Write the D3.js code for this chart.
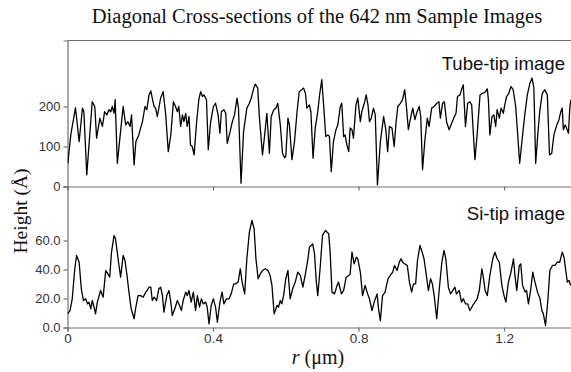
<!DOCTYPE html>
<html><head><meta charset="utf-8">
<script src="https://cdn.jsdelivr.net/npm/d3@7"></script>
<style>body{margin:0;background:#fff}svg{display:block}</style>
</head><body><svg id="c" width="571" height="372"></svg>
<script>
const tubeR = [0.001,0.009,0.022,0.032,0.041,0.045,0.053,0.068,0.075,0.080,0.089,0.096,0.102,0.108,0.114,0.119,0.123,0.128,0.131,0.137,0.144,0.153,0.160,0.166,0.172,0.176,0.183,0.188,0.196,0.206,0.213,0.218,0.224,0.229,0.233,0.238,0.242,0.247,0.256,0.263,0.270,0.277,0.284,0.291,0.297,0.302,0.306,0.311,0.316,0.320,0.325,0.329,0.334,0.338,0.343,0.348,0.355,0.361,0.366,0.371,0.375,0.382,0.387,0.393,0.401,0.407,0.414,0.419,0.423,0.430,0.435,0.439,0.447,
0.452,0.459,0.466,0.470,0.477,0.484,0.493,0.500,0.505,0.512,0.516,0.523,0.527,0.536,0.542,0.548,0.555,0.560,0.567,0.573,0.578,0.585,0.591,0.597,0.600,0.606,0.610,0.617,0.624,0.631,0.637,0.644,0.649,0.654,0.658,0.665,0.669,0.675,0.681,0.688,0.693,0.699,0.704,0.710,0.716,0.720,0.725,0.731,0.738,0.743,0.750,0.754,0.759,0.763,0.768,0.773,0.777,0.782,0.786,0.793,0.798,0.805,0.809,0.817,0.821,0.826,0.830,0.835,0.841,0.846,0.852,0.860,0.869,0.875,0.880,0.885,0.892,0.898,0.903,0.908,0.915,
0.921,0.927,0.932,0.937,0.943,0.949,0.955,0.961,0.967,0.971,0.976,0.982,0.989,0.994,1.001,1.008,1.015,1.021,1.025,1.031,1.036,1.042,1.049,1.056,1.062,1.068,1.072,1.079,1.083,1.088,1.094,1.100,1.106,1.111,1.120,1.126,1.134,1.140,1.147,1.154,1.157,1.161,1.167,1.172,1.177,1.181,1.187,1.192,1.198,1.202,1.207,1.213,1.219,1.225,1.232,1.237,1.243,1.251,1.257,1.264,1.271,1.277,1.282,1.287,1.292,1.298,1.305,1.312,1.319,1.325,1.331,1.337,1.345,1.351,1.356,1.360,1.363,1.368,1.372,1.377,1.381,1.384];
const tubeH = [58,129,197,112,196,187,29,212,200,121,171,150,187,179,192,187,200,183,217,58,121,200,154,162,150,179,54,112,129,162,200,192,229,239,221,200,196,175,221,237,179,87,129,212,200,187,200,150,179,162,183,150,175,104,100,79,162,217,237,225,229,217,92,158,200,208,179,133,187,192,183,108,137,
158,179,221,196,8,137,196,208,221,246,256,246,179,79,129,183,83,175,192,196,208,154,83,72,75,171,154,67,112,187,237,242,246,233,196,204,187,71,146,187,229,267,204,125,129,125,37,112,142,154,200,208,125,129,104,87,146,142,121,204,221,162,187,212,229,204,162,171,196,179,4,112,175,142,87,150,146,100,158,200,208,
217,242,196,142,171,196,167,187,200,175,42,112,171,150,196,200,208,212,171,208,212,162,142,158,171,183,225,229,242,254,150,208,212,204,67,129,229,233,235,244,217,129,175,179,150,192,171,196,183,204,225,233,250,242,200,137,58,129,179,229,258,271,246,58,121,187,233,242,229,79,83,129,154,167,187,196,142,154,146,133,200,217];
const siR = [0.000,0.007,0.013,0.020,0.025,0.032,0.038,0.044,0.050,0.055,0.059,0.064,0.068,0.073,0.077,0.082,0.087,0.091,0.098,0.105,0.111,0.116,0.121,0.128,0.132,0.139,0.146,0.153,0.158,0.163,0.169,0.175,0.183,0.187,0.194,0.201,0.208,0.215,0.219,0.224,0.229,0.233,0.238,0.245,0.251,0.256,0.261,0.265,0.273,0.279,0.284,0.288,0.295,0.302,0.308,0.313,0.318,0.325,0.329,0.334,0.340,0.346,0.352,0.357,0.363,0.368,0.373,0.380,0.384,0.389,0.395,0.401,0.407,0.412,0.419,0.425,0.430,0.437,0.444,0.450,
0.457,0.463,0.469,0.475,0.480,0.487,0.493,0.500,0.507,0.513,0.518,0.524,0.530,0.536,0.544,0.551,0.557,0.562,0.568,0.576,0.580,0.585,0.589,0.594,0.600,0.606,0.612,0.619,0.626,0.633,0.640,0.647,0.654,0.661,0.665,0.674,0.679,0.684,0.688,0.695,0.701,0.709,0.718,0.722,0.727,0.734,0.741,0.745,0.753,0.759,0.766,0.773,0.777,0.782,0.788,0.794,0.798,0.805,0.811,0.818,0.825,0.830,0.837,0.843,0.851,0.855,0.860,0.866,0.873,0.881,0.887,0.894,0.899,0.906,0.912,0.917,
0.921,0.927,0.934,0.940,0.946,0.951,0.957,0.962,0.969,0.975,0.980,0.986,0.992,0.998,1.003,1.008,1.015,1.022,1.029,1.035,1.040,1.047,1.053,1.059,1.065,1.069,1.077,1.083,1.088,1.094,1.100,1.106,1.114,1.120,1.126,1.132,1.139,1.143,1.148,1.154,1.161,1.169,1.175,1.181,1.187,1.194,1.200,1.205,1.212,1.218,1.226,1.230,1.235,1.242,1.246,1.251,1.258,1.262,1.267,1.273,1.279,1.285,1.292,1.299,1.304,1.308,1.314,1.320,1.326,1.333,1.340,1.346,1.353,1.360,1.365,1.369,1.374,1.379,1.383];
const siH = [9.4,11.7,19.8,40.5,49.7,45,26.7,18.6,19.8,16.3,17.5,12.9,18.6,14,9.4,17.5,22,25.5,20.9,39.3,37,34.7,52,63.5,61.2,47.4,34.7,49.7,46.2,37,24.4,12.9,6,12.9,22,22,20.9,24.4,25.5,27.8,27.8,18.6,20.9,18.6,26.7,27.8,22,10.6,22,25.5,17.5,8.3,12.9,18.6,15.2,11.7,18.6,24.4,22,25.5,17.5,24.4,11.7,22,14,19.8,16.3,17.5,14,2.5,15.2,19.8,14,3.7,17.5,24.4,16.3,19.8,19.8,23.2,
30.1,30.1,31.3,40.5,31.3,23.2,47.4,65.8,73.8,68.1,47.4,33.6,37,39.3,40.5,39.3,35.9,29,9.4,15.2,14,18.6,16.3,22,33.6,39.3,19.8,26.7,31.3,38.2,35.9,27.8,37,47.4,55.4,57.7,50.8,31.3,22,42.8,63.5,66.9,64.6,52,24.4,23.2,29,31.3,23.2,25.5,34.7,35.9,37,52,43.9,48.5,47.4,38.2,22,29,23.2,19.8,11.7,17.5,23.2,12.9,4.8,22,24.4,33.6,35.9,38.2,42.8,39.3,45,47.4,
45,43.9,42.8,31.3,24.4,30.1,30.1,46.2,56.6,52,47.4,37,25.5,33.6,30.1,22,6,26.7,45,53.1,47.4,27.8,23.2,25.5,27.8,23.2,25.5,17.5,19.8,16.3,16.3,11.7,15.2,17.5,19.8,25.5,40.5,34.7,25.5,22,35.9,47.4,52,47.4,45,29,22,17.5,31.3,37,47.4,35.9,25.5,42.8,43.9,29,24.4,25.5,16.3,25.5,38.2,31.3,24.4,19.8,11.7,9.4,1.4,17.5,39.3,42.8,42.8,45,45,52,48.5,40.5,31.3,32.4,29];
const xTicks = [0, 0.4, 0.8, 1.2];
const xTickLabels = ["0", "0.4", "0.8", "1.2"];
const tubeTicks = [0, 100, 200];
const tubeTickLabels = ["0", "100", "200"];
const siTicks = [0, 20, 40, 60];
const siTickLabels = ["0.0", "20.0", "40.0", "60.0"];
const titleText = "Diagonal Cross-sections of the 642 nm Sample Images";
const tubeLabel = "Tube-tip image";
const siLabel = "Si-tip image";

const svg = d3.select("#c");
const left = 67.5;
const x = d3.scaleLinear().domain([0, 1.4]).range([left, 576.8]);
const yTop = d3.scaleLinear().domain([0, 365]).range([186.5, 40.5]);
const yBot = d3.scaleLinear().domain([0, 97]).range([327.5, 186.85]);
const axisCol = "#707070";
const textCol = "#333";
const sans = "'Liberation Sans', Arial, sans-serif";
const serif = "'Liberation Serif', 'Times New Roman', serif";

function styleAxis(g) {
  g.select(".domain").attr("stroke", axisCol).attr("stroke-width", 1.2);
  g.selectAll(".tick line").attr("stroke", axisCol).attr("stroke-width", 1.2);
  g.selectAll(".tick text").attr("fill", textCol).style("font-family", sans).style("font-size", "13px");
}

// top frame line
svg.append("line").attr("x1", left).attr("x2", 571).attr("y1", yTop(365)).attr("y2", yTop(365))
  .attr("stroke", axisCol).attr("stroke-width", 1.2);

// top panel axes
const gTopX = svg.append("g").attr("transform", `translate(0,${yTop(0)})`)
  .call(d3.axisBottom(x).tickValues(xTicks).tickFormat("").tickSizeOuter(0).tickSize(4));
styleAxis(gTopX);
const gTopY = svg.append("g").attr("transform", `translate(${left},0)`)
  .call(d3.axisLeft(yTop).tickValues(tubeTicks).tickFormat((d, i) => tubeTickLabels[i]).tickSizeOuter(0).tickSize(4).tickPadding(3));
styleAxis(gTopY);

// bottom panel axes
const gBotX = svg.append("g").attr("transform", `translate(0,${yBot(0)})`)
  .call(d3.axisBottom(x).tickValues(xTicks).tickFormat((d, i) => xTickLabels[i]).tickSizeOuter(0).tickSize(4).tickPadding(2));
styleAxis(gBotX);
gBotX.selectAll(".tick text").style("font-size", "13.5px");
const gBotY = svg.append("g").attr("transform", `translate(${left},0)`)
  .call(d3.axisLeft(yBot).tickValues(siTicks).tickFormat((d, i) => siTickLabels[i]).tickSizeOuter(0).tickSize(4).tickPadding(3));
styleAxis(gBotY);

// lines
const clip = svg.append("clipPath").attr("id", "clp").append("rect")
  .attr("x", left).attr("y", 30).attr("width", 571 - left).attr("height", 310);
const lineTop = d3.line().x((d, i) => x(tubeR[i])).y(d => yTop(d));
const lineBot = d3.line().x((d, i) => x(siR[i])).y(d => yBot(d));
svg.append("path").datum(tubeH).attr("d", lineTop).attr("fill", "none").attr("stroke", "#000")
  .attr("stroke-width", 1.3).attr("stroke-linejoin", "round").attr("clip-path", "url(#clp)");
svg.append("path").datum(siH).attr("d", lineBot).attr("fill", "none").attr("stroke", "#000")
  .attr("stroke-width", 1.3).attr("stroke-linejoin", "round").attr("clip-path", "url(#clp)");

// texts
svg.append("text").attr("x", 317).attr("y", 23).attr("text-anchor", "middle")
  .style("font-family", serif).style("font-size", "20.5px").attr("fill", "#111").text(titleText);
svg.append("text").attr("x", 565).attr("y", 70).attr("text-anchor", "end")
  .style("font-family", sans).style("font-size", "18.6px").attr("fill", "#111").text(tubeLabel);
svg.append("text").attr("x", 565).attr("y", 220).attr("text-anchor", "end")
  .style("font-family", sans).style("font-size", "18.6px").attr("fill", "#111").text(siLabel);
svg.append("text").attr("transform", "translate(27,211) rotate(-90)").attr("text-anchor", "middle")
  .style("font-family", serif).style("font-size", "19.5px").attr("fill", "#111").text("Height (Å)");
const xl = svg.append("text").attr("x", 318).attr("y", 364).attr("text-anchor", "middle")
  .style("font-family", serif).style("font-size", "20px").attr("fill", "#111");
xl.append("tspan").style("font-style", "italic").text("r");
xl.append("tspan").text(" (μm)");
</script></body></html>
